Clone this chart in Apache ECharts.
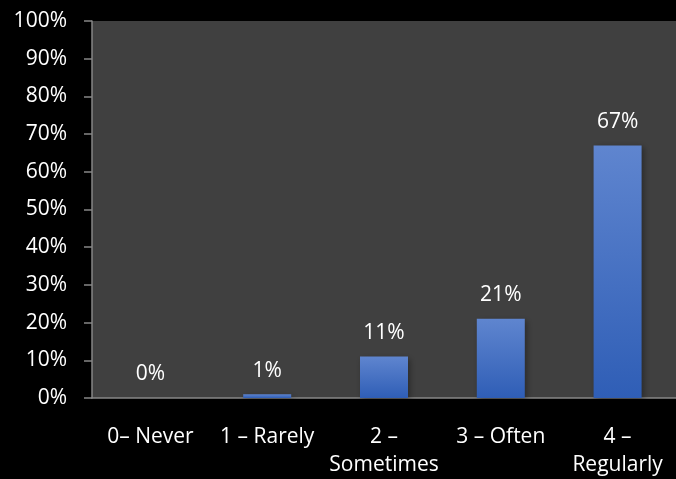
<!DOCTYPE html>
<html><head><meta charset="utf-8">
<script src="https://cdn.jsdelivr.net/npm/echarts@6/dist/echarts.min.js"></script>
<style>html,body{margin:0;padding:0;background:#000;}#c{width:676px;height:479px;}</style>
</head><body><div id="c"></div>
<script>
const categories = ['0– Never', '1 – Rarely', '2 –\nSometimes', '3 – Often', '4 –\nRegularly'];
const values = [0, 1, 11, 21, 67];
const yTicks = [0, 10, 20, 30, 40, 50, 60, 70, 80, 90, 100];

const chart = echarts.init(document.getElementById('c'));
const font = '"Open Sans", Lato, sans-serif';
chart.setOption({
  backgroundColor: '#000000',
  animation: false,
  grid: { left: 92, right: 0, top: 21, bottom: 81, show: true, backgroundColor: '#404040', borderWidth: 0, outerBoundsMode: 'none', containLabel: false },
  xAxis: {
    type: 'category', data: categories,
    axisLine: { show: true, lineStyle: { color: '#868686', width: 1.5 } },
    axisTick: { show: false },
    axisLabel: { color: '#ffffff', fontSize: 21, fontFamily: font, margin: 25, lineHeight: 28, interval: 0 }
  },
  yAxis: {
    type: 'value', min: yTicks[0], max: yTicks[yTicks.length - 1], interval: 10,
    axisLine: { show: true, lineStyle: { color: '#868686', width: 1.5 } },
    axisTick: { show: true, inside: false, length: 8, lineStyle: { color: '#868686', width: 1.5 } },
    splitLine: { show: false },
    axisLabel: { color: '#ffffff', fontSize: 21, fontFamily: font, margin: 25, formatter: '{value}%' }
  },
  series: [{
    type: 'bar', data: values, barWidth: 48,
    itemStyle: {
      color: new echarts.graphic.LinearGradient(0, 0, 0, 1, [
        { offset: 0, color: '#5f85cf' },
        { offset: 1, color: '#2f5eb6' }
      ]),
      shadowColor: 'rgba(0,0,0,0.35)', shadowBlur: 6, shadowOffsetX: 2, shadowOffsetY: 2
    },
    label: { show: true, position: 'top', distance: 13, color: '#ffffff', fontSize: 21, fontFamily: font, formatter: '{c}%' }
  }]
});
</script></body></html>
